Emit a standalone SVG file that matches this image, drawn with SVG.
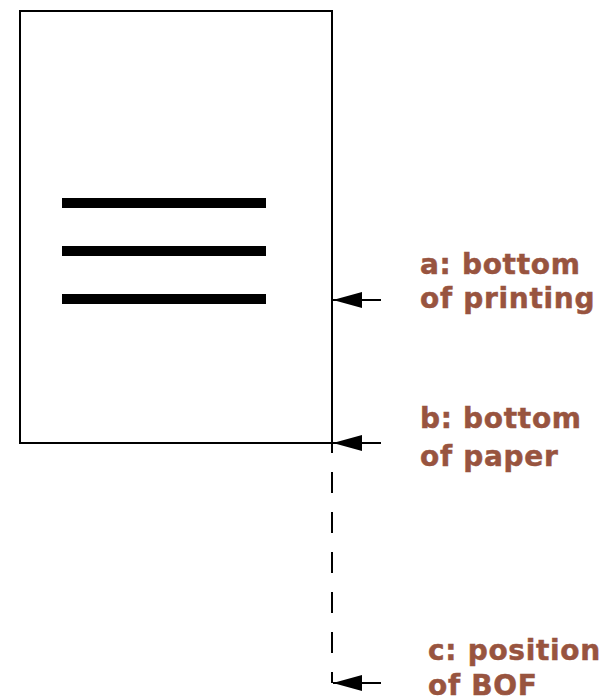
<svg xmlns="http://www.w3.org/2000/svg" width="602" height="698" viewBox="0 0 602 698">
  <style>
    .edge { fill: none; stroke: #000; stroke-width: 2; }
    .bar { fill: #000; }
    .lbl { font-family: "DejaVu Sans", "Open Sans", sans-serif; font-weight: bold; font-size: 28px; letter-spacing: 0.7px; fill: #98543f; stroke: #98543f; stroke-width: 0.5px; }
  </style>
  <defs>
    <!-- filled arrowhead, tip at the line end -->
    <marker id="head" markerWidth="30" markerHeight="18" refX="29" refY="9" orient="auto" markerUnits="userSpaceOnUse">
      <path d="M0,1 L29,9 L0,17 Z" fill="#000"/>
    </marker>
  </defs>
  <rect width="602" height="698" fill="#fff"/>

  <!-- sheet of paper with printed lines -->
  <g id="paper">
    <rect class="edge" x="20" y="11" width="312" height="432"/>
    <rect class="bar" x="62" y="198" width="204" height="10"/>
    <rect class="bar" x="62" y="246" width="204" height="10"/>
    <rect class="bar" x="62" y="294" width="204" height="10"/>
  </g>

  <g id="connectors">
    <line class="edge" x1="332" y1="443" x2="332" y2="683" stroke-dasharray="21 19" stroke-dashoffset="11"/>
    <line class="edge" x1="381" y1="300" x2="333" y2="300" marker-end="url(#head)"/>
    <line class="edge" x1="381" y1="443" x2="333" y2="443" marker-end="url(#head)"/>
    <line class="edge" x1="381" y1="683" x2="333" y2="683" marker-end="url(#head)"/>
  </g>

  <g id="label-a">
    <text class="lbl" x="420" y="274">a: bottom</text>
    <text class="lbl" x="420" y="308">of printing</text>
  </g>
  <g id="label-b">
    <text class="lbl" x="420" y="428">b: bottom</text>
    <text class="lbl" x="420" y="466">of paper</text>
  </g>
  <g id="label-c">
    <text class="lbl" x="428" y="660">c: position</text>
    <text class="lbl" x="428" y="695">of BOF</text>
  </g>
</svg>
